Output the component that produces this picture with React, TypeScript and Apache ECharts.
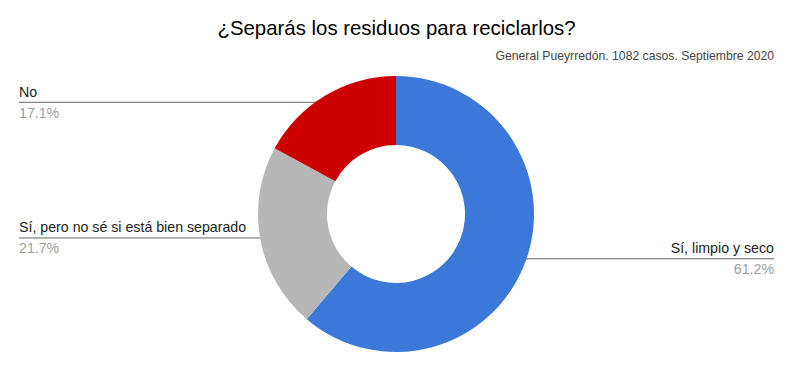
import React, { useEffect, useRef } from "react";
import * as echarts from "echarts";

const titleText = "¿Separás los residuos para reciclarlos?";
const subtitleText = "General Pueyrredón. 1082 casos. Septiembre 2020";
const categories = ["Sí, limpio y seco", "Sí, pero no sé si está bien separado", "No"];
const values = [61.2, 21.7, 17.1];
const colors = ["#3c78d8", "#b7b7b7", "#cc0000"];

const FONT = "'Liberation Sans', Arial, sans-serif";
const CX = 396;
const CY = 214;
const R_OUT = 138;
const R_IN = 69;
const R_DOT = 130;
const LEFT_EDGE = 19;
const RIGHT_EDGE = 774;

export default function App() {
  const ref = useRef<HTMLDivElement>(null);
  useEffect(() => {
    if (!ref.current) return;
    const chart = echarts.init(ref.current, null, { renderer: "svg" });
    chart.setOption({
      animation: false,
      backgroundColor: "#ffffff",
      title: [
        {
          text: titleText,
          left: "center",
          top: 18,
          padding: 0,
          textStyle: { fontFamily: FONT, fontSize: 20.4, fontWeight: "normal", color: "#000" },
        },
        {
          text: subtitleText,
          right: 19,
          top: 50,
          padding: 0,
          textStyle: { fontFamily: FONT, fontSize: 12.2, fontWeight: "normal", color: "#444" },
        },
      ],
      series: [
        {
          type: "pie",
          center: [CX, CY],
          radius: [R_IN, R_OUT],
          startAngle: 90,
          clockwise: true,
          avoidLabelOverlap: false,
          data: categories.map((c, i) => ({ name: c, value: values[i], itemStyle: { color: colors[i] } })),
          label: {
            show: true,
            position: "outside",
            formatter: (p: any) => `{n|${p.name}}\n{p|${p.value.toFixed(1)}%}`,
            rich: {
              n: { fontFamily: FONT, fontSize: 14.2, color: "#222", lineHeight: 21 },
              p: { fontFamily: FONT, fontSize: 14.2, color: "#9e9e9e", lineHeight: 21 },
            },
          },
          labelLine: { show: true, length: 10, length2: 10, smooth: false, lineStyle: { color: "#666", width: 1 } },
          emphasis: { disabled: true },
          labelLayout: (params: any) => {
            const p0 = params.labelLinePoints ? params.labelLinePoints[0] : [CX, CY];
            const dx = p0[0] - CX;
            const dy = p0[1] - CY;
            const len = Math.sqrt(dx * dx + dy * dy) || 1;
            const px = CX + (dx / len) * R_DOT;
            const py = CY + (dy / len) * R_DOT;
            const left = dx < 0;
            const ex = left ? LEFT_EDGE : RIGHT_EDGE;
            return {
              x: ex,
              y: py,
              align: left ? "left" : "right",
              verticalAlign: "middle",
              labelLinePoints: [
                [px, py],
                [px, py],
                [ex, py],
              ],
            };
          },
        },
      ],
    });
    return () => chart.dispose();
  }, []);
  return (
    <div
      ref={ref}
      style={{ position: "fixed", left: 0, top: 0, width: 793, height: 371, background: "#fff" }}
    />
  );
}
